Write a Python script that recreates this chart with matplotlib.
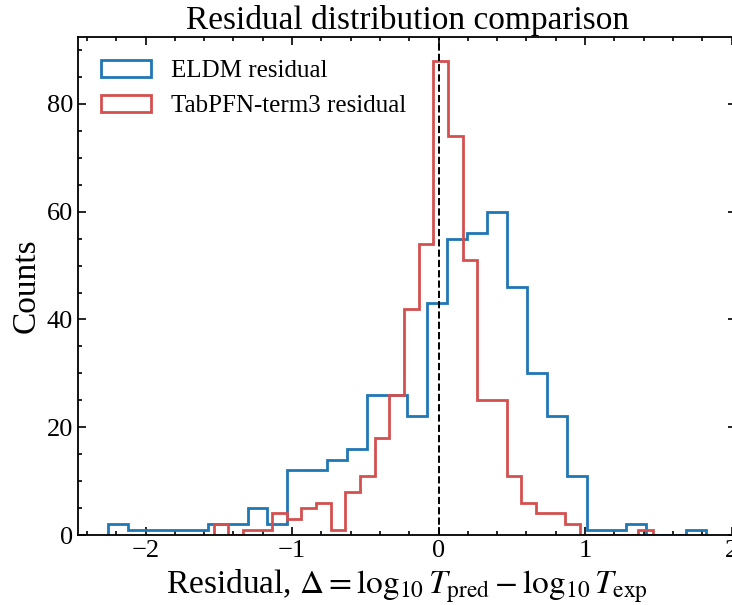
import numpy as np
import matplotlib.pyplot as plt
from matplotlib.ticker import AutoMinorLocator

# bin ranges (30 bins each) and counts
eldm_lo, eldm_hi = -2.257, 1.827
eldm_counts = [2, 1, 1, 1, 1, 2, 2, 5, 2, 12,
               12, 14, 16, 26, 26, 22, 43, 55, 56, 60,
               46, 30, 22, 11, 1, 1, 2, 0, 0, 1]

tab_lo, tab_hi = -1.536, 1.464
tab_counts = [2, 0, 1, 1, 4, 3, 5, 6, 1, 8,
              11, 18, 26, 42, 54, 88, 74, 51, 25, 25,
              11, 6, 4, 4, 2, 0, 0, 0, 0, 1]

labels = ["ELDM residual", "TabPFN-term3 residual"]

plt.rcParams['font.family'] = ['Liberation Serif', 'DejaVu Serif']
plt.rcParams['mathtext.fontset'] = 'stix'


def edges(lo, hi, n):
    return np.linspace(lo, hi, n + 1)


e1 = edges(eldm_lo, eldm_hi, len(eldm_counts))
e2 = edges(tab_lo, tab_hi, len(tab_counts))

fig = plt.figure(figsize=(7.32, 6.05), dpi=100)
ax = fig.add_axes([0.1066, 0.1157, 0.899, 0.823])

ax.hist((e1[:-1] + e1[1:]) / 2, bins=e1, weights=eldm_counts, histtype='step',
        color='#1f77b4', lw=2, label=labels[0])
ax.hist((e2[:-1] + e2[1:]) / 2, bins=e2, weights=tab_counts, histtype='step',
        color='#d4504f', lw=2, label=labels[1])
ax.axvline(0, color='black', ls='--', lw=1.4)

ax.set_xticks([-2, -1, 0, 1, 2])
ax.set_yticks([0, 20, 40, 60, 80])
ax.xaxis.set_minor_locator(AutoMinorLocator(5))
ax.yaxis.set_minor_locator(AutoMinorLocator(4))
ax.tick_params(which='both', direction='in', top=True, right=True, labelsize=19, width=1.2)
ax.tick_params(which='major', length=6)
ax.tick_params(which='minor', length=3)
for s in ax.spines.values():
    s.set_linewidth(1.3)

ax.set_xlabel(r"Residual, $\Delta = \log_{10} T_{\rm pred} - \log_{10} T_{\rm exp}$", fontsize=24)
ax.set_ylabel("Counts", fontsize=24)
ax.set_title("Residual distribution comparison", fontsize=24)
ax.legend(loc='upper left', frameon=False, fontsize=18)

fig.savefig("out.png", dpi=100)
